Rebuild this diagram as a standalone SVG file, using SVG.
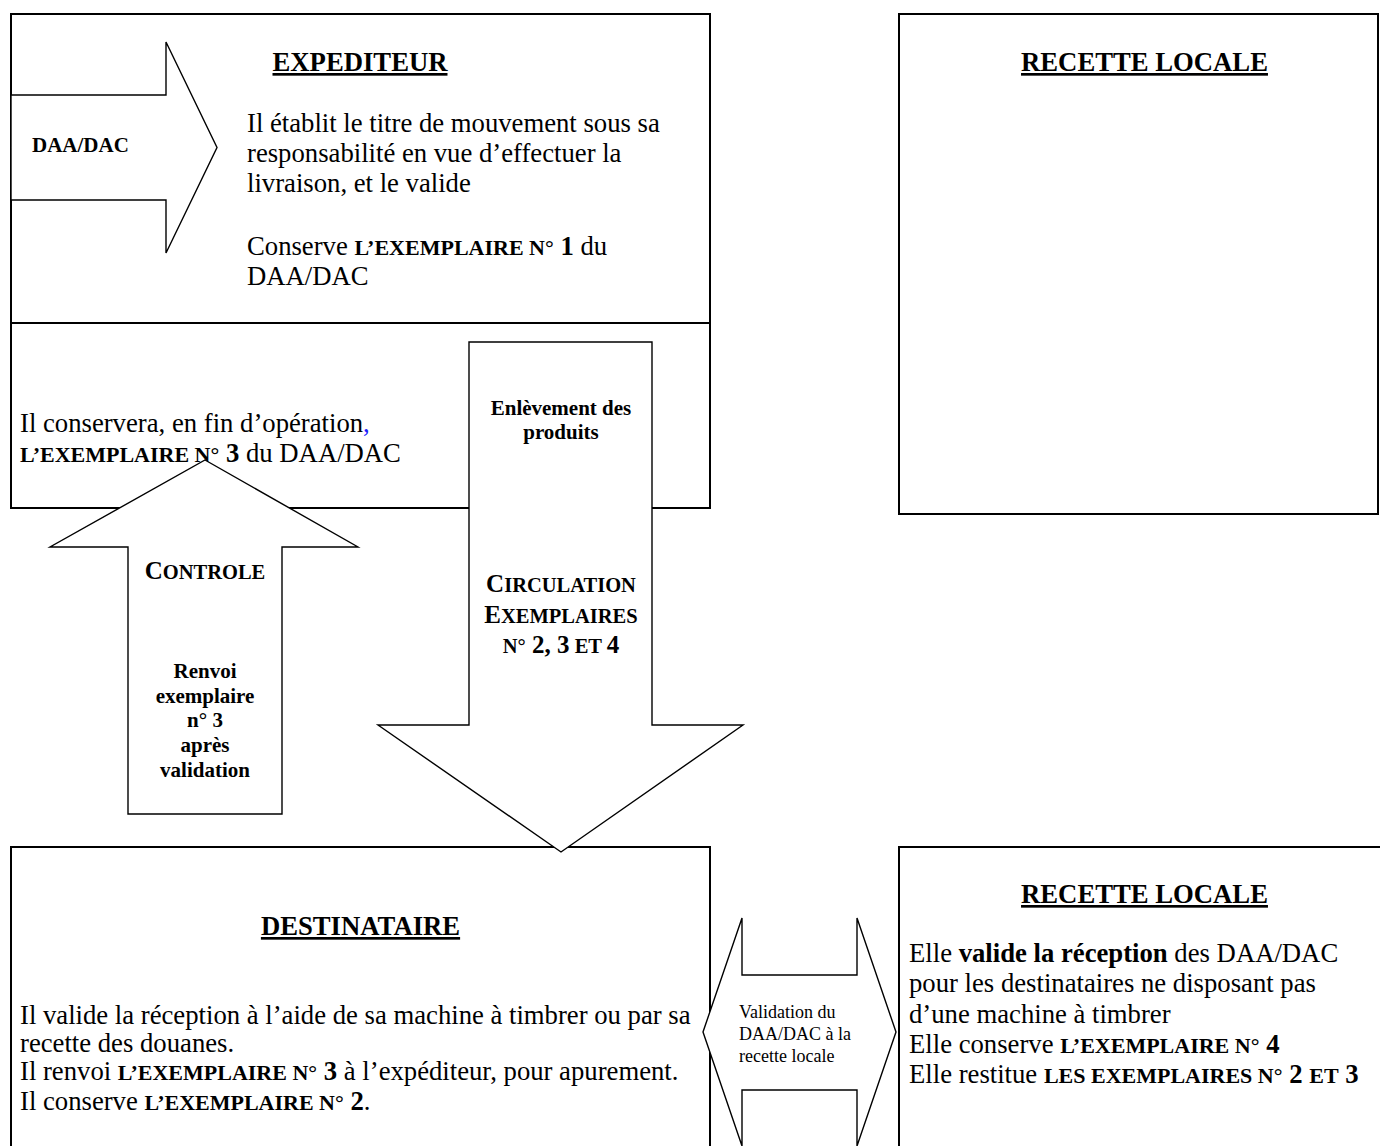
<svg xmlns="http://www.w3.org/2000/svg" width="1380" height="1146" viewBox="0 0 1380 1146">
<style>
  .box{fill:#fff;stroke:#000;stroke-width:2}
  .ln{stroke:#000;stroke-width:2;fill:none}
  .arr{fill:#fff;stroke:#000;stroke-width:1.4;stroke-linejoin:miter}
  text{font-family:"Liberation Serif","Times New Roman",serif;fill:#000}
  .t{font-size:26.7px}
  .b{font-weight:bold}
  .sc{font-size:22px;font-weight:bold}
  .h{font-size:26.7px;font-weight:bold;text-decoration:underline;text-anchor:middle}
  .lab{font-size:21px;font-weight:bold;text-anchor:middle}
  .big{font-size:25px;font-weight:bold}
  .sm{font-size:20.5px;font-weight:bold}
  .v{font-size:18px}
</style>

<g id="expediteur">
  <rect class="box" x="11" y="14" width="699" height="494"/>
  <line class="ln" x1="11" y1="323" x2="710" y2="323"/>
  <text class="h" x="360" y="71">EXPEDITEUR</text>
  <text class="t" x="247" y="132">Il établit le titre de mouvement sous sa</text>
  <text class="t" x="247" y="162">responsabilité en vue d’effectuer la</text>
  <text class="t" x="247" y="192">livraison, et le valide</text>
  <text class="t" x="247" y="255">Conserve <tspan class="sc">L’EXEMPLAIRE N°</tspan> <tspan class="b">1</tspan> du</text>
  <text class="t" x="247" y="285">DAA/DAC</text>
  <text class="t" x="20" y="432">Il conservera, en fin d’opération<tspan fill="#1a1aff">,</tspan></text>
  <text class="t" x="20" y="462"><tspan class="sc">L’EXEMPLAIRE N°</tspan> <tspan class="b">3</tspan> du DAA/DAC</text>
</g>

<g id="recette-locale-haut">
  <rect class="box" x="899" y="14" width="479" height="500"/>
  <text class="h" x="1144.5" y="71">RECETTE LOCALE</text>
</g>

<g id="destinataire">
  <path class="ln" d="M11,1160 L11,847 L710,847 L710,1160"/>
  <text class="h" x="360.5" y="935">DESTINATAIRE</text>
  <text class="t" x="20" y="1024">Il valide la réception à l’aide de sa machine à timbrer ou par sa</text>
  <text class="t" x="20" y="1052">recette des douanes.</text>
  <text class="t" x="20" y="1080">Il renvoi <tspan class="sc">L’EXEMPLAIRE N°</tspan> <tspan class="b">3</tspan> à l’expéditeur, pour apurement.</text>
  <text class="t" x="20" y="1110">Il conserve  <tspan class="sc">L’EXEMPLAIRE N°</tspan> <tspan class="b">2</tspan>.</text>
</g>

<g id="recette-locale-bas">
  <path class="ln" d="M899,1160 L899,847 L1390,847"/>
  <text class="h" x="1144.5" y="903">RECETTE LOCALE</text>
  <text class="t" x="909" y="962">Elle <tspan class="b">valide la réception</tspan> des DAA/DAC</text>
  <text class="t" x="909" y="992">pour les destinataires ne disposant pas</text>
  <text class="t" x="909" y="1023">d’une machine à timbrer</text>
  <text class="t" x="909" y="1053">Elle conserve <tspan class="sc">L’EXEMPLAIRE N°</tspan> <tspan class="b">4</tspan></text>
  <text class="t" x="909" y="1083">Elle restitue <tspan class="sc">LES EXEMPLAIRES N°</tspan> <tspan class="b">2</tspan> <tspan class="sc">ET</tspan> <tspan class="b">3</tspan></text>
</g>

<g id="connecteurs">
  <g id="fleche-daa-dac">
    <path class="arr" d="M11,95 L166,95 L166,42 L217,147.5 L166,253 L166,200 L11,200 Z"/>
    <text class="b" x="32" y="152" font-size="21">DAA/DAC</text>
  </g>
  <g id="fleche-circulation">
    <path class="arr" d="M469,342 L652,342 L652,725 L743,725 L561,852 L378,725 L469,725 Z"/>
    <text class="lab" x="561" y="415">Enlèvement des</text>
    <text class="lab" x="561" y="439">produits</text>
    <text x="561" y="592" text-anchor="middle"><tspan class="big">C</tspan><tspan class="sm">IRCULATION</tspan></text>
    <text x="561" y="623" text-anchor="middle"><tspan class="big">E</tspan><tspan class="sm">XEMPLAIRES</tspan></text>
    <text x="561" y="653" text-anchor="middle"><tspan class="sm">N°</tspan><tspan class="big"> 2, 3</tspan><tspan class="sm"> ET </tspan><tspan class="big">4</tspan></text>
  </g>
  <g id="fleche-controle">
    <path class="arr" d="M205,460 L358,547 L282,547 L282,814 L128,814 L128,547 L50,547 Z"/>
    <text x="205" y="579" text-anchor="middle"><tspan class="big">C</tspan><tspan class="sm">ONTROLE</tspan></text>
    <text class="lab" x="205" y="678">Renvoi</text>
    <text class="lab" x="205" y="703">exemplaire</text>
    <text class="lab" x="205" y="727">n° 3</text>
    <text class="lab" x="205" y="752">après</text>
    <text class="lab" x="205" y="777">validation</text>
  </g>
  <g id="fleche-validation">
    <path class="arr" d="M703,1032 L742,918 L742,975 L857,975 L857,918 L896,1032 L857,1146 L857,1090 L742,1090 L742,1146 Z"/>
    <text class="v" x="739" y="1018">Validation du</text>
    <text class="v" x="739" y="1040">DAA/DAC à la</text>
    <text class="v" x="739" y="1062">recette locale</text>
  </g>
</g>
</svg>
